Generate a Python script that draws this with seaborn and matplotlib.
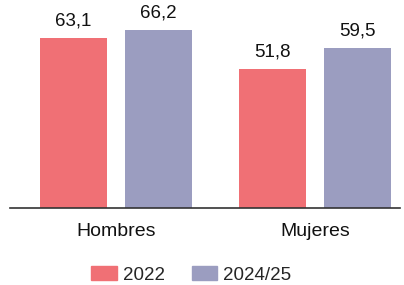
import numpy as np
import pandas as pd
import seaborn as sns
from matplotlib import pyplot as plt

# datos
grupos = ['Hombres', 'Mujeres']
series = ['2022', '2024/25']
valores_2022 = [63.1, 51.8]
valores_2024 = [66.2, 59.5]
colores = ['#F07075', '#9B9DC0']

df = pd.DataFrame({
    'grupo': grupos * 2,
    'serie': [series[0]] * 2 + [series[1]] * 2,
    'valor': valores_2022 + valores_2024,
})

sns.set_style('white')
plt.rcParams['font.family'] = ['Liberation Sans', 'DejaVu Sans']

fig = plt.figure(figsize=(4.04, 2.85), dpi=100)
ax = fig.add_axes([10 / 404, 77 / 285, 390 / 404, 208 / 285])

sns.barplot(data=df, x='grupo', y='valor', hue='serie', palette=colores,
            width=0.854, gap=0.21, ax=ax, legend=False, saturation=1,
            linewidth=0)

for container in ax.containers:
    labels = [f'{v:.1f}'.replace('.', ',') for v in container.datavalues]
    ax.bar_label(container, labels=labels, padding=6, fontsize=13.5, color='#111111')

ax.set_xlim(-0.533, 1.427)
ax.set_ylim(0, 77.3)
ax.set_xlabel('')
ax.set_ylabel('')
ax.set_yticks([])
ax.tick_params(axis='x', length=0, pad=11, labelsize=14, labelcolor='#111111')
for s in ['top', 'right', 'left']:
    ax.spines[s].set_visible(False)
ax.spines['bottom'].set_color('#333333')
ax.spines['bottom'].set_linewidth(1.2)

handles = [plt.Rectangle((0, 0), 1, 1, color=c) for c in colores]
fig.legend(handles, series, loc='lower center', bbox_to_anchor=(0.474, -0.055),
           ncol=2, frameon=False, fontsize=13.5, handlelength=1.35, handleheight=0.8,
           handletextpad=0.35, columnspacing=1.4)

fig.savefig('out.png', dpi=100)
